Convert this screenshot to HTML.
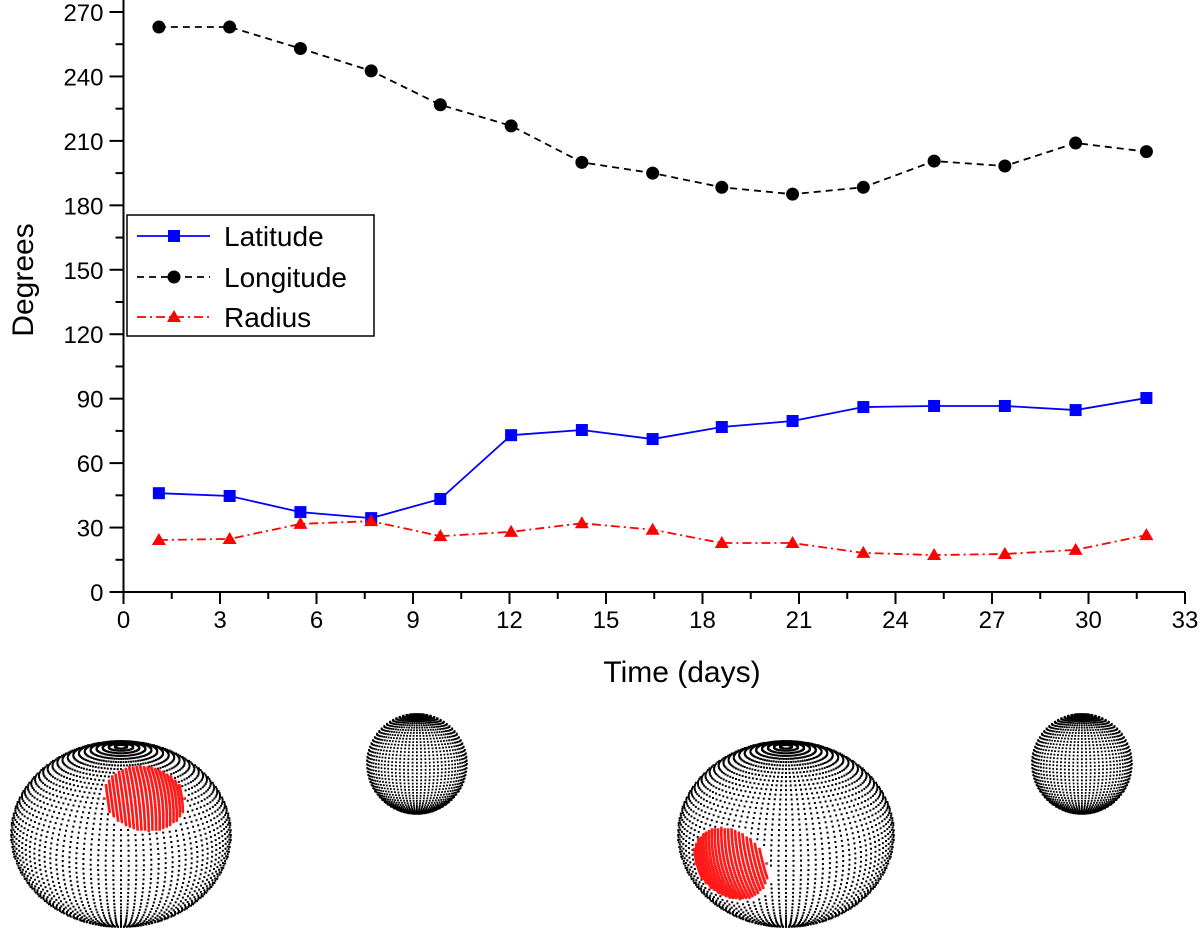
<!DOCTYPE html>
<html><head><meta charset="utf-8"><style>
html,body{margin:0;padding:0;background:#fff;}
svg{display:block;font-family:"Liberation Sans",Arial,sans-serif;}
</style></head><body>
<svg id="chart" width="1200" height="931" viewBox="0 0 1200 931">
<g id="axes"></g>
<g id="series"></g>
<g id="legend">
 <rect x="127" y="215" width="247" height="121" fill="#fff" stroke="#000" stroke-width="1.5"/>
 <g>
  <line x1="137" y1="236" x2="210" y2="236" stroke="#0000ff" stroke-width="1.8"/>
  <rect x="168" y="230" width="12" height="12" fill="#0000ff"/>
  <text x="224" y="246" font-size="28">Latitude</text>
 </g>
 <g>
  <line x1="137" y1="277" x2="210" y2="277" stroke="#000" stroke-width="1.8" stroke-dasharray="7,5"/>
  <circle cx="174" cy="277" r="6.5" fill="#000"/>
  <text x="224" y="287" font-size="28">Longitude</text>
 </g>
 <g>
  <line x1="137" y1="317" x2="210" y2="317" stroke="#ff0000" stroke-width="1.8" stroke-dasharray="9,4,2,4"/>
  <polygon points="174,310 181,322 167,322" fill="#ff0000"/>
  <text x="224" y="327" font-size="28">Radius</text>
 </g>
</g>
<g id="spheres"></g>
</svg>
<script>
const days = [1.1,3.3,5.5,7.7,9.85,12.05,14.25,16.45,18.6,20.8,23.0,25.2,27.4,29.6,31.8];
const longitude = [263,263,253,242.6,226.8,217,200,195,188.4,185.2,188.4,200.6,198.3,209,205];
const latitude = [46,44.7,37.2,34.4,43.3,73,75.4,71.2,76.8,79.6,86.1,86.6,86.6,84.7,90.3];
const radius = [24.2,24.7,31.7,33,26,28,32,29,22.8,22.8,18.2,17.2,17.7,19.6,26.5];
const xTicks = [0,3,6,9,12,15,18,21,24,27,30,33];
const yTicks = [0,30,60,90,120,150,180,210,240,270];

const NS="http://www.w3.org/2000/svg";
const X0=123.5,X1=1185,Y0=592,Y1=12;
const sx=v=>X0+(v/33)*(X1-X0);
const sy=v=>Y0-(v/270)*(Y0-Y1);
function mk(tag,attrs,parent){const e=document.createElementNS(NS,tag);for(const k in attrs)e.setAttribute(k,attrs[k]);parent.appendChild(e);return e;}
const axes=document.getElementById('axes');
const xa=mk('line',{x1:X0,y1:Y0,x2:X1,y2:Y0,stroke:'#000','stroke-width':2},axes);


const ya=mk('line',{x1:X0,y1:Y0,x2:X0,y2:0,stroke:'#000','stroke-width':2},axes);


xTicks.forEach((t,i)=>{
 mk('line',{x1:sx(t),y1:Y0,x2:sx(t),y2:Y0+12,stroke:'#000','stroke-width':2},axes);
 if(i<xTicks.length-1) mk('line',{x1:sx(t+1.5),y1:Y0,x2:sx(t+1.5),y2:Y0+7,stroke:'#000','stroke-width':2},axes);
 const tx=mk('text',{x:sx(t),y:Y0+36,'font-size':24,'text-anchor':'middle'},axes);tx.textContent=t;
 
 
});
yTicks.forEach((t,i)=>{
 mk('line',{x1:X0-14,y1:sy(t),x2:X0,y2:sy(t),stroke:'#000','stroke-width':2},axes);
 if(i<yTicks.length-1) mk('line',{x1:X0-8,y1:sy(t+15),x2:X0,y2:sy(t+15),stroke:'#000','stroke-width':2},axes);
 const tx=mk('text',{x:X0-20,y:sy(t)+9,'font-size':24,'text-anchor':'end'},axes);tx.textContent=t;
 
 
});
const xt=mk('text',{x:682,y:682,'font-size':30,'text-anchor':'middle'},axes);xt.textContent='Time (days)';


const yt=mk('text',{x:0,y:0,'font-size':30,'text-anchor':'middle',transform:'translate(33,280) rotate(-90)'},axes);yt.textContent='Degrees';



const ser=document.getElementById('series');
function series(vals,color,dash,marker,name){
 const g=mk('g',{},ser);
 
 
 mk('polyline',{points:days.map((d,i)=>sx(d)+','+sy(vals[i])).join(' '),fill:'none',stroke:color,'stroke-width':1.8,'stroke-dasharray':dash},g);
 days.forEach((d,i)=>{const x=sx(d),y=sy(vals[i]);let m;
  if(marker==='sq') m=mk('rect',{x:x-6,y:y-6,width:12,height:12,fill:color},g);
  else if(marker==='c') m=mk('circle',{cx:x,cy:y,r:6.5,fill:color},g);
  else m=mk('polygon',{points:`${x},${y-7} ${x+7},${y+5} ${x-7},${y+5}`,fill:color},g);
  
  
 });
}
series(longitude,'#000','7,5','c','longitude-series');
series(latitude,'#0000ff','none','sq','latitude-series');
series(radius,'#ff0000','9,4,2,4','tri','radius-series');

// spheres
const sp=document.getElementById('spheres');
function sphere(cx,cy,rx,ry,tilt,nLon,nLat,ds,patch,name){
 const g=mk('g',{},sp);
 
 
 let blk='',red='';
 let pc=null;
 if(patch){const nx=patch[0],ny=patch[1];pc=[nx,ny,Math.sqrt(Math.max(0,1-nx*nx-ny*ny))];}
 const ct=Math.cos(tilt),st=Math.sin(tilt);
 for(let i=0;i<nLon;i++){const lon=i/nLon*2*Math.PI;
  for(let j=1;j<nLat;j++){const lat=-Math.PI/2+j/nLat*Math.PI;
   const px=Math.cos(lat)*Math.sin(lon),py=Math.sin(lat),pz=Math.cos(lat)*Math.cos(lon);
   const vy=py*ct-pz*st, vz=py*st+pz*ct;
   if(vz<0) continue;
   const X=cx+px*rx,Y=cy-vy*ry;
   if(pc&&(px*pc[0]+vy*pc[1]+vz*pc[2])>Math.cos(patch[2])) continue;
   blk+=`M${X.toFixed(1)} ${Y.toFixed(1)}h${ds}v${ds}h-${ds}z`;
  }}
 mk('path',{d:blk,fill:'#000'},g);
 if(pc){
  const ang=patch[2];
  const up=[0,1,0];let u=[up[1]*pc[2]-up[2]*pc[1],up[2]*pc[0]-up[0]*pc[2],up[0]*pc[1]-up[1]*pc[0]];
  let ul=Math.hypot(...u);u=u.map(v=>v/ul);
  const w=[pc[1]*u[2]-pc[2]*u[1],pc[2]*u[0]-pc[0]*u[2],pc[0]*u[1]-pc[1]*u[0]];
  const N=11;
  for(let a=-N;a<=N;a++)for(let b=-N*2;b<=N*2;b++){
   const ta=a/N*ang,tb=b/(2*N)*ang;if(ta*ta+tb*tb>ang*ang)continue;
   const p=[pc[0]+ta*u[0]+tb*w[0],pc[1]+ta*u[1]+tb*w[1],pc[2]+ta*u[2]+tb*w[2]];
   const l=Math.hypot(...p);
   const X=cx+p[0]/l*rx,Y=cy-p[1]/l*ry;
   red+=`M${(X-1.3).toFixed(1)} ${(Y-1.3).toFixed(1)}h2.6v2.6h-2.6z`;
  }
  const r=mk('path',{d:red,fill:'#ff1a1a'},g);
  
  
 }
}
sphere(120,833,110,93,0.35,90,56,2,[0.24,0.4,0.41],'sphere-1');
sphere(416,763,50,50,0.12,72,44,1.8,null,'sphere-2');
sphere(785,833,108,93,0.35,90,56,2,[-0.55,-0.36,0.45],'sphere-3');
sphere(1081,763,50,50,0.12,72,44,1.8,null,'sphere-4');
</script>
</body></html>
